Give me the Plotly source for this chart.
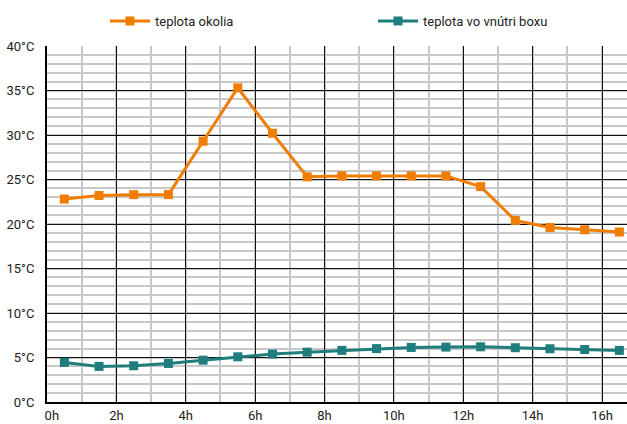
import plotly.graph_objects as go

hours = [0.5, 1.5, 2.5, 3.5, 4.5, 5.5, 6.5, 7.5, 8.5, 9.5, 10.5, 11.5, 12.5, 13.5, 14.5, 15.5, 16.5]
teplota_okolia = [22.8, 23.2, 23.3, 23.3, 29.3, 35.3, 30.2, 25.3, 25.4, 25.4, 25.4, 25.4, 24.2, 20.4, 19.6, 19.35, 19.1]
teplota_boxu = [4.45, 4.0, 4.07, 4.33, 4.7, 5.08, 5.38, 5.6, 5.8, 6.0, 6.13, 6.17, 6.2, 6.1, 5.98, 5.9, 5.8]

x_tick_vals = [0, 2, 4, 6, 8, 10, 12, 14, 16]
x_tick_text = ["\u00a0\u00a0\u00a00h", "2h", "4h", "6h", "8h", "10h", "12h", "14h", "16h"]
y_tick_vals = [0, 5, 10, 15, 20, 25, 30, 35, 40]
y_tick_text = ["0°C", "5°C", "10°C", "15°C", "20°C", "25°C", "30°C", "35°C", "40°C"]

FONT = "Roboto, Liberation Sans, sans-serif"
ORANGE = "#F07D00"
TEAL = "#1F7D7D"

fig = go.Figure()
fig.add_trace(go.Scatter(x=hours, y=teplota_okolia, mode="lines+markers", name="teplota okolia",
                         line=dict(color=ORANGE, width=3),
                         marker=dict(symbol="square", size=9, color=ORANGE)))
fig.add_trace(go.Scatter(x=hours, y=teplota_boxu, mode="lines+markers", name="teplota vo vnútri boxu",
                         line=dict(color=TEAL, width=3),
                         marker=dict(symbol="square", size=9, color=TEAL)))

fig.update_layout(
    width=627, height=424,
    margin=dict(l=47, r=0, t=46, b=22, autoexpand=False),
    paper_bgcolor="white", plot_bgcolor="white",
    font=dict(family=FONT, size=13, color="#222222"),
    showlegend=True,
    legend=dict(orientation="h", xref="container", yref="container",
                x=105/627, y=1 - 6/424, xanchor="left", yanchor="top",
                itemwidth=40, entrywidth=213, entrywidthmode="pixels",
                font=dict(family=FONT, size=13, color="#222222")),
    xaxis=dict(range=[0, 16.72], tickvals=x_tick_vals, ticktext=x_tick_text,
               showgrid=True, gridcolor="#111111", gridwidth=1,
               minor=dict(dtick=1, tick0=0, showgrid=True, gridcolor="#c8c8c8", gridwidth=2),
               showline=True, linecolor="#000000", linewidth=2, automargin=False,
               ticks="", zeroline=False, ticklabelstandoff=0, fixedrange=True),
    yaxis=dict(range=[0, 40], tickvals=y_tick_vals, ticktext=y_tick_text,
               showgrid=True, gridcolor="#111111", gridwidth=1,
               minor=dict(dtick=1, tick0=0, showgrid=True, gridcolor="#c8c8c8", gridwidth=2),
               showline=True, linecolor="#000000", linewidth=2, automargin=False,
               ticks="", zeroline=False, ticklabelstandoff=8, fixedrange=True),
)

fig.write_html("out.html", post_script="document.body.style.margin='0';",
               config={"displayModeBar": False})
